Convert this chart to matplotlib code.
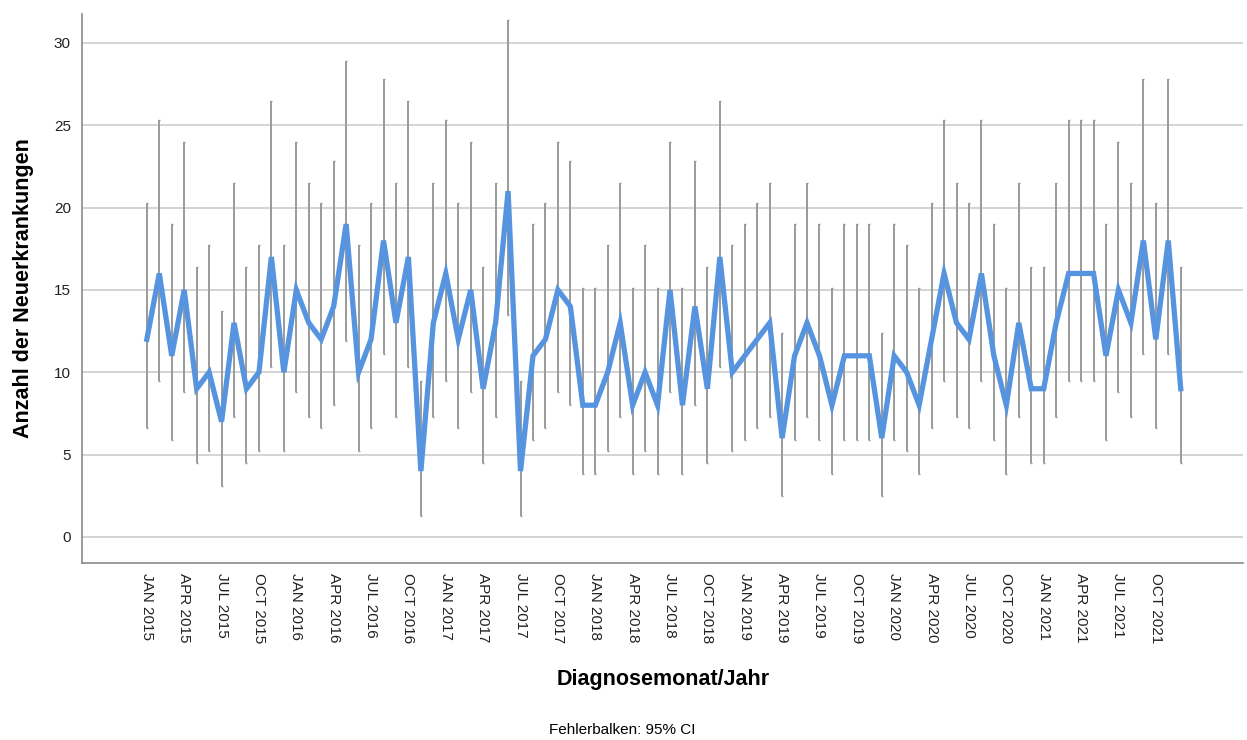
import numpy as np
import pandas as pd
import matplotlib
matplotlib.use("Agg")
import matplotlib.pyplot as plt

plt.rcParams['font.family'] = ['Liberation Sans', 'DejaVu Sans']

# Monatliche Neuerkrankungen Jan 2015 - Dez 2021
monate = pd.date_range("2015-01-01", "2021-12-01", freq="MS")

anzahl = [12, 16, 11, 15, 9, 10, 7, 13, 9, 10, 17, 10,
          15, 13, 12, 14, 19, 10, 12, 18, 13, 17, 4, 13,
          16, 12, 15, 9, 13, 21, 4, 11, 12, 15, 14, 8,
          8, 10, 13, 8, 10, 8, 15, 8, 14, 9, 17, 10,
          11, 12, 13, 6, 11, 13, 11, 8, 11, 11, 11, 6,
          11, 10, 8, 12, 16, 13, 12, 16, 11, 8, 13, 9,
          9, 13, 16, 16, 16, 11, 15, 13, 18, 12, 18, 9]

# 95% CI
ci_unten = {4: 1.3, 6: 2.5, 7: 3.1, 8: 3.8, 9: 4.5, 10: 5.2, 11: 5.9, 12: 6.6,
            13: 7.3, 14: 8.0, 15: 8.8, 16: 9.5, 17: 10.3, 18: 11.1, 19: 11.9, 21: 13.5}
ci_oben = {4: 9.5, 6: 12.4, 7: 13.7, 8: 15.1, 9: 16.4, 10: 17.7, 11: 19.0, 12: 20.3,
           13: 21.5, 14: 22.8, 15: 24.0, 16: 25.3, 17: 26.5, 18: 27.8, 19: 28.9, 21: 31.4}

df = pd.DataFrame({"monat": monate, "n": anzahl})
df["lo"] = df["n"].map(ci_unten)
df["hi"] = df["n"].map(ci_oben)
x = np.arange(len(df))

fig = plt.figure(figsize=(12.47, 7.40), dpi=100)
ax = fig.add_axes([0.0658, 0.2392, 0.931, 0.7418])

ax.set_ylim(-1.58, 31.75)
ax.set_xlim(-5.2, 88)
ax.set_yticks(range(0, 31, 5))
ax.grid(axis="y", color="#c8c8c8", linewidth=1.1)
ax.set_axisbelow(True)

ax.errorbar(x, df["n"], yerr=[df["n"] - df["lo"], df["hi"] - df["n"]],
            fmt="none", ecolor="#9a9a9a", elinewidth=1.4, capsize=1.0, capthick=1.0, zorder=2)
ax.plot(x, df["n"], color="#5694e0", linewidth=3.8, zorder=3, solid_joinstyle="miter")

ticks = x[::3]
labels = [d.strftime("%b %Y").upper() for d in df["monat"][::3]]
ax.set_xticks(ticks)
ax.set_xticklabels(labels, rotation=-90, fontsize=11)
ax.tick_params(axis="both", length=0, colors="#222222")
ax.tick_params(axis="y", labelsize=11, pad=8)
ax.tick_params(axis="x", pad=7)

for s in ["top", "right"]:
    ax.spines[s].set_visible(False)
for s in ["left", "bottom"]:
    ax.spines[s].set_color("#8a8a8a")
    ax.spines[s].set_linewidth(1.2)

ax.set_ylabel("Anzahl der Neuerkrankungen", fontsize=15.5, fontweight="bold", labelpad=14)
fig.text(0.532, 0.082, "Diagnosemonat/Jahr", fontsize=15.5, fontweight="bold", ha="center", va="center")
fig.text(0.499, 0.014, "Fehlerbalken: 95% CI", fontsize=11, ha="center", va="center")

fig.savefig("out.png", dpi=100, facecolor="white")
